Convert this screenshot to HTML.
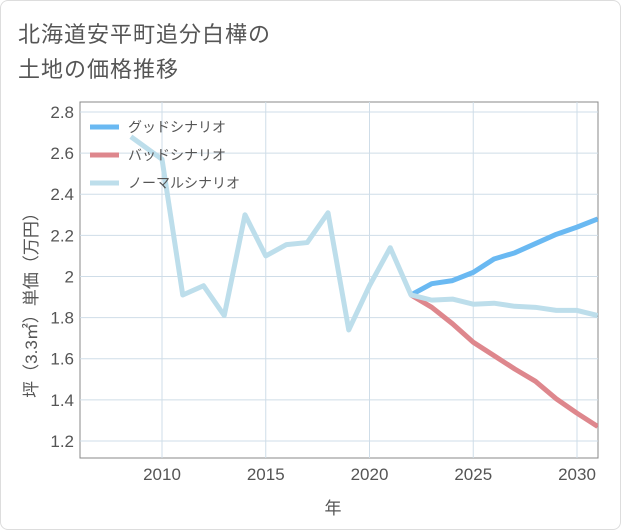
<!DOCTYPE html>
<html><head><meta charset="utf-8"><style>
body{margin:0;background:#fff}
#card{position:relative;width:619px;height:528px;border:1px solid #ddd;border-radius:8px;background:#fff;overflow:hidden;font-family:"Liberation Sans","Noto Sans CJK JP",sans-serif}
#title{position:absolute;left:17px;top:16px;font-size:22px;line-height:35px;color:#555;letter-spacing:1px}
</style></head><body>
<div id="card">
<div id="title">北海道安平町追分白樺の<br>土地の価格推移</div>
<svg id="chart" width="621" height="530" style="position:absolute;left:0;top:0"></svg>
</div>
<script>
const normalYears=[2008.5,2010,2011,2012,2013,2014,2015,2016,2017,2018,2019,2020,2021,2022,2023,2024,2025,2026,2027,2028,2029,2030,2031];
const normalValues=[2.68,2.57,1.91,1.955,1.81,2.30,2.10,2.155,2.165,2.31,1.74,1.955,2.14,1.91,1.885,1.89,1.865,1.87,1.855,1.85,1.835,1.835,1.81];
const futureYears=[2022,2023,2024,2025,2026,2027,2028,2029,2030,2031];
const goodValues=[1.91,1.965,1.98,2.02,2.085,2.115,2.16,2.205,2.24,2.28];
const badValues=[1.91,1.85,1.77,1.68,1.615,1.55,1.49,1.405,1.335,1.27];
const xTicks=[2010,2015,2020,2025,2030];
const yTicks=[1.2,1.4,1.6,1.8,2,2.2,2.4,2.6,2.8];
const yTickLabels=["1.2","1.4","1.6","1.8","2","2.2","2.4","2.6","2.8"];
const legendLabels=["グッドシナリオ","バッドシナリオ","ノーマルシナリオ"];

const L=79,R=597,T=101,B=457;
const x=v=>161+(v-2010)*20.75;
const y=v=>111+(2.8-v)*205.6;
const svg=document.getElementById('chart');
const NS='http://www.w3.org/2000/svg';
function mk(tag,attrs,parent){const e=document.createElementNS(NS,tag);for(const k in attrs)e.setAttribute(k,attrs[k]);(parent||svg).appendChild(e);return e;}
const bg=mk('rect',{x:L,y:T,width:R-L,height:B-T,fill:'#fff',stroke:'#888','stroke-width':1});


yTicks.forEach((t,i)=>{
  const g=mk('line',{x1:L,x2:R,y1:y(t),y2:y(t),stroke:'#cfdde8','stroke-width':1});
  
  
  const tx=mk('text',{x:L-6,y:y(t)+6,'text-anchor':'end','font-size':17,fill:'#555'});
  tx.textContent=yTickLabels[i];
  
  
});
xTicks.forEach(t=>{
  const g=mk('line',{x1:x(t),x2:x(t),y1:T,y2:B,stroke:'#cfdde8','stroke-width':1});
  
  
  const tx=mk('text',{x:x(t),y:B+22,'text-anchor':'middle','font-size':17,fill:'#555'});
  tx.textContent=t;
  
  
});
const clip=mk('clipPath',{id:'c'});mk('rect',{x:L,y:T,width:R-L,height:B-T},clip);
function line(xs,vs,color,name){
  const p=mk('polyline',{points:xs.map((a,i)=>x(a)+','+y(vs[i])).join(' '),fill:'none',stroke:color,'stroke-width':5,'stroke-linejoin':'round','clip-path':'url(#c)'});
  
  
}
line(futureYears,badValues,'#de878d','bad-scenario-line');
line(futureYears,goodValues,'#6ab9f2','good-scenario-line');
line(normalYears,normalValues,'#bddeeb','normal-scenario-line');
const colors=['#6ab9f2','#de878d','#bddeeb'];
legendLabels.forEach((lb,i)=>{
  const g=mk('g',{});
  
  
  mk('line',{x1:89,x2:118,y1:126+i*28,y2:126+i*28,stroke:colors[i],'stroke-width':5},g);
  const t=mk('text',{x:127,y:131+i*28,'font-size':14,fill:'#555'},g);t.textContent=lb;
});
const xl=mk('text',{x:332,y:513,'text-anchor':'middle','font-size':17,fill:'#555'});xl.textContent='年';


const yl=mk('text',{x:0,y:0,'text-anchor':'middle','font-size':17,fill:'#555',transform:'translate(36,300) rotate(-90)'});yl.textContent='坪（3.3㎡）単価（万円）';


</script>
</body></html>
